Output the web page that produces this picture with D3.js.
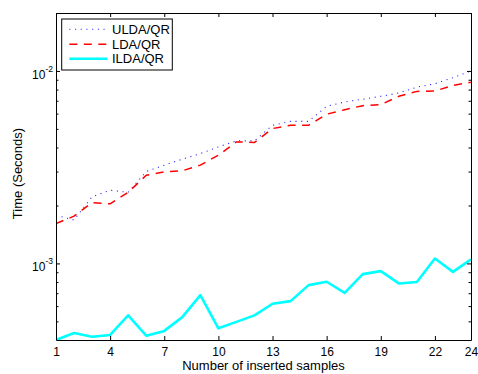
<!DOCTYPE html>
<html>
<head>
<meta charset="utf-8">
<script src="https://cdn.jsdelivr.net/npm/d3@7"></script>
<style>
  body { margin: 0; background: #fff; }
  svg { display: block; }
  text { font-family: "Liberation Sans", Arial, Helvetica, sans-serif; fill: #000; }
</style>
</head>
<body>
<svg id="chart" width="478" height="374"></svg>
<script>
// Number of inserted samples
const samples = [1, 2, 3, 4, 5, 6, 7, 8, 9, 10, 11, 12, 13, 14, 15, 16, 17, 18, 19, 20, 21, 22, 23, 24];

// Running time in seconds
const uldaQR = [1.78e-3, 1.68e-3, 2.22e-3, 2.40e-3, 2.34e-3, 3.00e-3, 3.24e-3, 3.48e-3, 3.72e-3, 4.03e-3, 4.33e-3, 4.33e-3,
                5.22e-3, 5.47e-3, 5.47e-3, 6.55e-3, 6.90e-3, 7.13e-3, 7.38e-3, 7.68e-3, 8.24e-3, 8.58e-3, 9.23e-3, 1.00e-2];
const ldaQR  = [1.61e-3, 1.76e-3, 2.07e-3, 2.04e-3, 2.34e-3, 2.87e-3, 2.99e-3, 3.03e-3, 3.24e-3, 3.65e-3, 4.28e-3, 4.25e-3,
                5.02e-3, 5.22e-3, 5.22e-3, 5.96e-3, 6.29e-3, 6.60e-3, 6.68e-3, 7.38e-3, 7.83e-3, 7.86e-3, 8.41e-3, 8.73e-3];
const ildaQR = [4.00e-4, 4.35e-4, 4.16e-4, 4.25e-4, 5.37e-4, 4.21e-4, 4.46e-4, 5.26e-4, 6.84e-4, 4.60e-4, 4.97e-4, 5.37e-4,
                6.17e-4, 6.37e-4, 7.71e-4, 8.03e-4, 7.03e-4, 8.80e-4, 9.12e-4, 7.87e-4, 8.00e-4, 1.06e-3, 9.04e-4, 1.05e-3];

// Axis ticks
const xTicks = [1, 4, 7, 10, 13, 16, 19, 22, 24];
const yMajorTicks = [1e-3, 1e-2];
const yExponents = ["-3", "-2"];
const yMinorTicks = [5e-4, 6e-4, 7e-4, 8e-4, 9e-4, 2e-3, 3e-3, 4e-3, 5e-3, 6e-3, 7e-3, 8e-3, 9e-3, 2e-2];

const xLabel = "Number of inserted samples";
const yLabel = "Time (Seconds)";

const seriesNames = ["ULDA/QR", "LDA/QR", "ILDA/QR"];
const seriesValues = [uldaQR, ldaQR, ildaQR];
const seriesStyles = [
  { color: "#2a2aff", width: 1.1, dash: "1.1,4.6" },
  { color: "#ff0000", width: 1.5, dash: "8,6.5" },
  { color: "#00ffff", width: 2.6, dash: null }
];

const svg = d3.select("#chart");
const plotLeft = 56, plotRight = 471, plotTop = 13, plotBottom = 340;

const x = d3.scaleLinear().domain([1, 24]).range([plotLeft, plotRight]);
const y = d3.scaleLog().domain([4e-4, 2e-2]).range([plotBottom, plotTop]);

// Plot area clip
svg.append("defs").append("clipPath").attr("id", "plot-clip")
  .append("rect").attr("x", plotLeft).attr("y", plotTop)
  .attr("width", plotRight - plotLeft).attr("height", plotBottom - plotTop);

// Series lines
const line = d3.line().x((d, i) => x(samples[i])).y(d => y(d));
const lines = svg.append("g").attr("clip-path", "url(#plot-clip)");
seriesValues.forEach((vals, k) => {
  const s = seriesStyles[k];
  lines.append("path")
    .datum(vals)
    .attr("d", line)
    .attr("fill", "none")
    .attr("stroke", s.color)
    .attr("stroke-width", s.width)
    .attr("stroke-dasharray", s.dash)
    .attr("stroke-linejoin", "round");
});

// Axes (ticks point inward)
const styleAxis = g => {
  g.selectAll(".domain").attr("stroke", "#000").attr("stroke-width", 1);
  g.selectAll(".tick line").attr("stroke", "#000").attr("stroke-width", 1);
};

svg.append("g").attr("transform", `translate(0,${plotBottom})`)
  .call(d3.axisBottom(x).tickValues(xTicks).tickSize(-4).tickSizeOuter(0).tickPadding(7.5).tickFormat(d3.format("d")))
  .call(styleAxis)
  .call(g => g.selectAll("text").attr("font-size", 12).attr("font-family", null));

svg.append("g").attr("transform", `translate(0,${plotTop})`)
  .call(d3.axisTop(x).tickValues(xTicks).tickSize(-4).tickSizeOuter(0).tickFormat(""))
  .call(styleAxis);

const leftAxis = svg.append("g").attr("transform", `translate(${plotLeft},0)`)
  .call(d3.axisLeft(y).tickValues(yMajorTicks).tickSize(-4).tickSizeOuter(0).tickPadding(3).tickFormat(() => "10"))
  .call(styleAxis);
leftAxis.selectAll(".tick text")
  .attr("font-size", 12).attr("font-family", null).attr("dy", "0.6em")
  .append("tspan")
  .attr("font-size", 8.5)
  .attr("dy", -6.7)
  .text((d, i) => yExponents[i]);

svg.append("g").attr("transform", `translate(${plotLeft},0)`)
  .call(d3.axisLeft(y).tickValues(yMinorTicks).tickSize(-2.5).tickSizeOuter(0).tickFormat(""))
  .call(styleAxis)
  .call(g => g.select(".domain").remove());

svg.append("g").attr("transform", `translate(${plotRight},0)`)
  .call(d3.axisRight(y).tickValues(yMajorTicks).tickSize(-4).tickSizeOuter(0).tickFormat(""))
  .call(styleAxis);
svg.append("g").attr("transform", `translate(${plotRight},0)`)
  .call(d3.axisRight(y).tickValues(yMinorTicks).tickSize(-2.5).tickSizeOuter(0).tickFormat(""))
  .call(styleAxis)
  .call(g => g.select(".domain").remove());

// Axis titles
svg.append("text")
  .attr("x", (plotLeft + plotRight) / 2).attr("y", 369.5)
  .attr("text-anchor", "middle").attr("font-size", 13)
  .text(xLabel);

svg.append("text")
  .attr("transform", `translate(21.5,${(plotTop + plotBottom) / 2 - 3}) rotate(-90)`)
  .attr("text-anchor", "middle").attr("font-size", 13)
  .text(yLabel);

// Legend
const legend = svg.append("g");
legend.append("rect")
  .attr("x", 61.7).attr("y", 19).attr("width", 110.6).attr("height", 51)
  .attr("fill", "#fff").attr("stroke", "#000").attr("stroke-width", 1);
const rowY = [29.3, 44.2, 58.8];
seriesNames.forEach((name, k) => {
  const s = seriesStyles[k];
  legend.append("line")
    .attr("x1", 69.3).attr("x2", 107.3).attr("y1", rowY[k]).attr("y2", rowY[k])
    .attr("stroke", s.color).attr("stroke-width", s.width)
    .attr("stroke-dasharray", s.dash);
  legend.append("text")
    .attr("x", 112).attr("y", rowY[k]).attr("dy", "0.36em")
    .attr("font-size", 13)
    .text(name);
});
</script>
</body>
</html>
